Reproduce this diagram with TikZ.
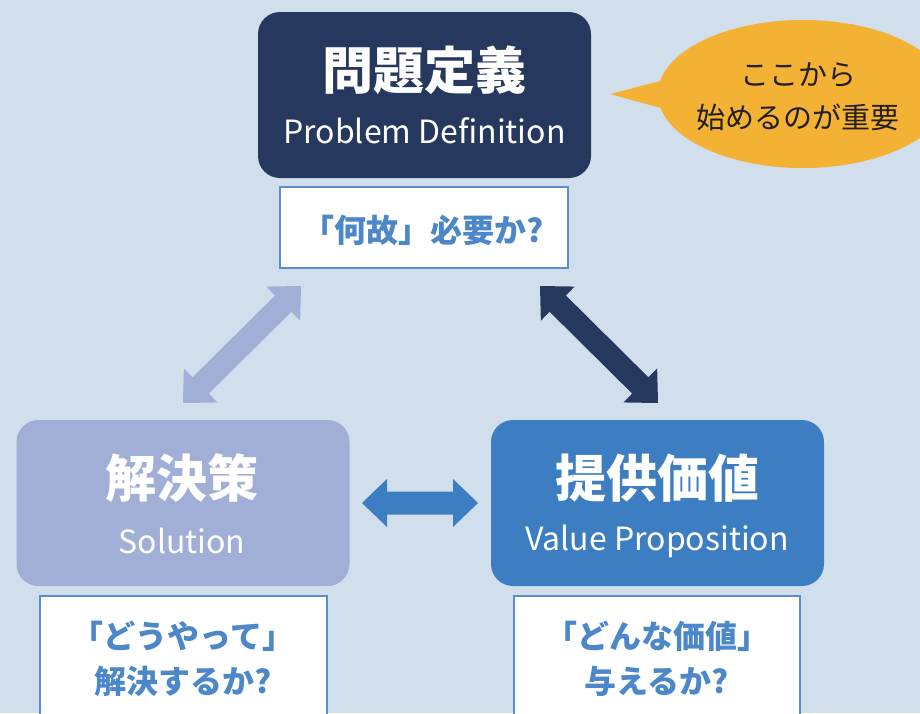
\documentclass[tikz,border=0pt]{standalone}
\usepackage{fontspec}
\newfontfamily\jp{Noto Sans CJK JP}
\usetikzlibrary{calc,shapes.geometric}
\definecolor{bgc}{HTML}{D1DFEC}
\definecolor{navy}{HTML}{27385F}
\definecolor{lilac}{HTML}{A1AED6}
\definecolor{midblue}{HTML}{3D7EC2}
\definecolor{qblue}{HTML}{4B87C9}
\definecolor{qborder}{HTML}{5A8FCC}
\definecolor{bubble}{HTML}{F3B233}
\definecolor{ink}{HTML}{231F20}
\newcommand\dblarr[3]{%
  \coordinate (h1) at ($(#1)!25pt!(#2)$);
  \coordinate (h2) at ($(#2)!25pt!(#1)$);
  \fill[#3] (#1)
    -- ($(h1)!24pt!90:(#2)$) -- ($(h1)!11.5pt!90:(#2)$)
    -- ($(h2)!11.5pt!-90:(#1)$) -- ($(h2)!24pt!-90:(#1)$)
    -- (#2)
    -- ($(h2)!24pt!90:(#1)$) -- ($(h2)!11.5pt!90:(#1)$)
    -- ($(h1)!11.5pt!-90:(#2)$) -- ($(h1)!24pt!-90:(#2)$)
    -- cycle;}
\begin{document}
\begin{tikzpicture}[x=1pt,y=-1pt,
  card/.style={rectangle, rounded corners=22pt, inner sep=0pt, minimum width=333pt, minimum height=166pt},
  qbox/.style={rectangle, fill=white, draw=qborder, line width=2pt, inner sep=0pt},
  ttl/.style={text=white, font=\jp\bfseries\fontsize{51}{60}\selectfont},
  sub/.style={text=white, font=\jp\fontsize{32}{38}\selectfont},
  qtxt/.style={text=qblue, font=\jp\bfseries\fontsize{32}{38}\selectfont},
  btxt/.style={text=ink, font=\jp\fontsize{29}{34}\selectfont}]
\useasboundingbox (0,0) rectangle (920,713);
\clip (0,0) rectangle (920,713);
\fill[bgc] (0,0) rectangle (920,713);

% top card
\node[card, fill=navy] (pd) at (424.5,95) {};
\node[ttl] (pdt) at (424.5,70) {問題定義};
\node[sub] (pds) at (424.5,131) {Problem Definition};
\node[qbox, minimum width=288pt, minimum height=81pt] (pdq) at (424,227.5) {};
\node[qtxt] (pdqt) at (423,230) {「何故」必要か?};

% bubble
\node[ellipse, fill=bubble, minimum width=290pt, minimum height=148pt, inner sep=0pt] (bub) at (803,94) {};
\coordinate (tip) at (610,94);
\fill[bubble] (tip) -- (668,79) -- (668,110) -- cycle;
\node[btxt] (bt1) at (798,75) {ここから};
\node[btxt] (bt2) at (798,117) {始めるのが重要};

% left card
\node[card, fill=lilac] (so) at (183,503) {};
\node[ttl] (sot) at (182,478) {解決策};
\node[sub] (sos) at (182,541) {Solution};
\node[qbox, minimum width=287pt, minimum height=130pt] (soq) at (183.5,661) {};
\node[qtxt] (soq1) at (183,636) {「どうやって」};
\node[qtxt] (soq2) at (183,681) {解決するか?};

% right card
\node[card, fill=midblue] (vp) at (657.5,503) {};
\node[ttl] (vpt) at (657,478) {提供価値};
\node[sub] (vps) at (657,541) {Value Proposition};
\node[qbox, minimum width=286pt, minimum height=130pt] (vpq) at (657,661) {};
\node[qtxt] (vpq1) at (657,636) {「どんな価値」};
\node[qtxt] (vpq2) at (657,681) {与えるか?};

% arrows
\coordinate (a1) at (183,403);
\coordinate (a2) at (301,286);
\coordinate (b1) at (540,286);
\coordinate (b2) at (658,403);
\coordinate (c1) at (362,503);
\coordinate (c2) at (478,503);
\dblarr{a1}{a2}{lilac}
\dblarr{b1}{b2}{navy}
\dblarr{c1}{c2}{midblue}
\end{tikzpicture}
\end{document}
